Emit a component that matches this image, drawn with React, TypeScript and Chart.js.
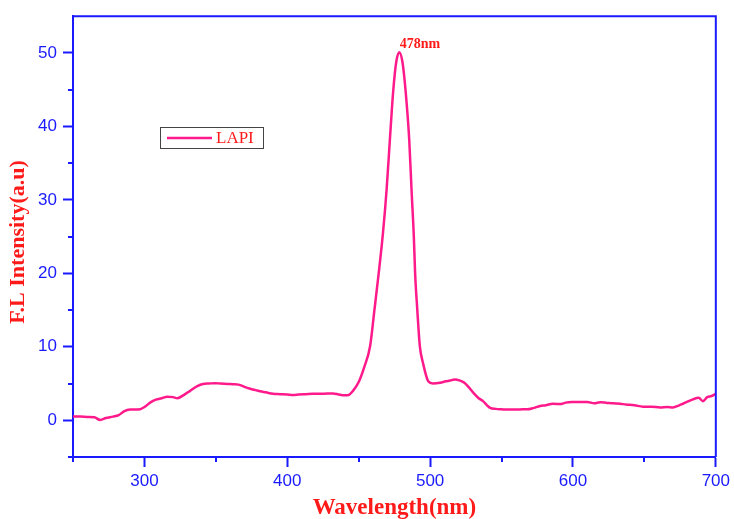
import React, { useEffect, useRef } from "react";
import { Chart, registerables } from "chart.js";

Chart.register(...registerables);

const wavelengths = [
  250, 255, 260, 265, 269, 273, 278, 282, 286, 290, 297, 300, 304, 308, 312, 316, 320, 323, 328, 332,
  337, 341, 345, 350, 353, 358, 362, 366, 370, 374, 378, 381, 385, 390, 395, 400, 404, 408, 413, 418,
  424, 428, 432, 436, 440, 443, 446, 450, 454, 458, 461, 464, 467, 469.5, 471.8, 474.2, 476.3, 478.4, 480.6, 482.8,
  485.4, 487, 488.6, 489.5, 491, 492.8, 495, 498.7, 502, 507, 511, 514, 517, 521, 524, 527, 530, 534,
  537, 540, 542, 546, 550, 555, 560, 565, 568, 572, 577, 581, 586, 591, 595, 600, 605, 610, 615, 619,
  623, 628, 633, 637, 643, 649, 655, 661, 666, 670, 674, 677, 681, 684, 688, 691, 694, 697, 700,
];
const intensity = [
  0.5, 0.5, 0.45, 0.4, 0.05, 0.3, 0.5, 0.7, 1.25, 1.45, 1.5, 1.8, 2.4, 2.8, 3.0, 3.2, 3.15, 3.0, 3.5, 4.0,
  4.65, 4.95, 5.0, 5.05, 5.0, 4.95, 4.9, 4.85, 4.55, 4.3, 4.1, 3.95, 3.8, 3.6, 3.55, 3.5, 3.45, 3.5, 3.55, 3.6,
  3.6, 3.65, 3.65, 3.5, 3.4, 3.45, 4.0, 5.2, 7.3, 10.1, 15.0, 20.0, 25.5, 31.3, 38.1, 44.9, 48.8, 50.1, 48.8, 44.9,
  38.1, 31.3, 25.0, 20.0, 15.1, 10.1, 7.8, 5.3, 5.0, 5.1, 5.3, 5.4, 5.55, 5.4, 5.1, 4.5, 3.8, 3.0,
  2.6, 2.0, 1.7, 1.55, 1.5, 1.45, 1.45, 1.5, 1.5, 1.65, 1.95, 2.05, 2.25, 2.2, 2.4, 2.48, 2.5, 2.5, 2.3, 2.45,
  2.4, 2.3, 2.25, 2.15, 2.05, 1.85, 1.85, 1.75, 1.8, 1.75, 2.0, 2.25, 2.6, 2.85, 3.05, 2.6, 3.15, 3.3, 3.6,
];
const xMajorTicks = [300, 400, 500, 600, 700];
const xMinorTicks = [250, 350, 450, 550, 650];
const yMajorTicks = [0, 10, 20, 30, 40, 50];
const yMinorTicks = [-5, 5, 15, 25, 35, 45];
const seriesName = "LAPI";
const peakLabel = "478nm";
const peakX = 478;
const peakY = 50.1;
const xTitle = "Wavelength(nm)";
const yTitle = "F.L Intensity(a.u)";

const BLUE = "#1a1aff";
const RED = "#ff1a1a";
const PINK = "#ff1a8c";
const SERIF = "'Liberation Serif', 'Times New Roman', serif";

const framePlugin = {
  id: "frameAndExtras",
  afterDraw(chart: any) {
    const { ctx, chartArea, scales } = chart;
    const xs = scales.x;
    const ys = scales.y;
    ctx.save();
    // top and right frame lines
    ctx.strokeStyle = BLUE;
    ctx.lineWidth = 2;
    ctx.beginPath();
    ctx.moveTo(chartArea.left, chartArea.top);
    ctx.lineTo(chartArea.right, chartArea.top);
    ctx.lineTo(chartArea.right, chartArea.bottom);
    ctx.stroke();
    // minor ticks
    ctx.beginPath();
    xMinorTicks.forEach((v) => {
      const px = Math.round(xs.getPixelForValue(v));
      ctx.moveTo(px, chartArea.bottom);
      ctx.lineTo(px, chartArea.bottom + 5);
    });
    yMinorTicks.forEach((v) => {
      const py = Math.round(ys.getPixelForValue(v));
      ctx.moveTo(chartArea.left, py);
      ctx.lineTo(chartArea.left - 5, py);
    });
    ctx.stroke();
    // axis titles
    ctx.fillStyle = RED;
    ctx.textAlign = "center";
    ctx.textBaseline = "middle";
    ctx.font = `bold 23px ${SERIF}`;
    ctx.fillText(xTitle, (chartArea.left + chartArea.right) / 2, 508);
    ctx.save();
    ctx.translate(18, 242);
    ctx.rotate(-Math.PI / 2);
    ctx.font = `bold 22px ${SERIF}`;
    ctx.fillText(yTitle, 0, 0);
    ctx.restore();
    // peak label
    ctx.fillStyle = RED;
    ctx.font = `bold 14px ${SERIF}`;
    ctx.textAlign = "left";
    ctx.textBaseline = "alphabetic";
    ctx.fillText(peakLabel, xs.getPixelForValue(peakX) + 1, ys.getPixelForValue(peakY) - 4);
    // legend
    const lx = 160, ly = 127, lw = 103, lh = 21;
    ctx.strokeStyle = "#444";
    ctx.lineWidth = 1;
    ctx.strokeRect(lx + 0.5, ly + 0.5, lw, lh);
    ctx.strokeStyle = PINK;
    ctx.lineWidth = 2.5;
    ctx.beginPath();
    ctx.moveTo(lx + 7, ly + 11);
    ctx.lineTo(lx + 52, ly + 11);
    ctx.stroke();
    ctx.fillStyle = RED;
    ctx.font = `17px ${SERIF}`;
    ctx.textBaseline = "middle";
    ctx.fillText(seriesName, lx + 56, ly + 12);
    ctx.restore();
  },
};

export default function App() {
  const ref = useRef<HTMLCanvasElement>(null);
  useEffect(() => {
    if (!ref.current) return;
    const points = wavelengths.map((w, i) => ({ x: w, y: intensity[i] }));
    const chart = new Chart(ref.current, {
      type: "line",
      data: {
        datasets: [
          {
            label: seriesName,
            data: points,
            borderColor: PINK,
            borderWidth: 2.5,
            pointRadius: 0,
            cubicInterpolationMode: "monotone",
            fill: false,
          },
        ],
      },
      options: {
        animation: false,
        responsive: false,
        maintainAspectRatio: false,
        layout: { padding: { top: 15, right: 18, left: 0, bottom: 0 } },
        plugins: { legend: { display: false }, tooltip: { enabled: false } },
        scales: {
          x: {
            type: "linear",
            min: 250,
            max: 700,
            afterBuildTicks: (s: any) => {
              s.ticks = xMajorTicks.map((v) => ({ value: v }));
            },
            afterFit: (s: any) => {
              s.height = 62;
            },
            grid: {
              drawOnChartArea: false,
              drawTicks: true,
              tickLength: 10,
              tickColor: BLUE,
              tickWidth: 2,
            },
            border: { color: BLUE, width: 2 },
            ticks: {
              color: BLUE,
              padding: 4,
              maxRotation: 0,
              font: { family: "'Liberation Sans', Arial, sans-serif", size: 17 },
            },
          },
          y: {
            type: "linear",
            min: -5,
            max: 55,
            afterBuildTicks: (s: any) => {
              s.ticks = yMajorTicks.map((v) => ({ value: v }));
            },
            afterFit: (s: any) => {
              s.width = 73;
            },
            grid: {
              drawOnChartArea: false,
              drawTicks: true,
              tickLength: 10,
              tickColor: BLUE,
              tickWidth: 2,
            },
            border: { color: BLUE, width: 2 },
            ticks: {
              color: BLUE,
              padding: 6,
              font: { family: "'Liberation Sans', Arial, sans-serif", size: 17 },
            },
          },
        },
      },
      plugins: [framePlugin],
    });
    return () => chart.destroy();
  }, []);
  return (
    <div style={{ position: "absolute", left: 0, top: 0, width: 734, height: 519, background: "#fff" }}>
      <canvas ref={ref} width={734} height={519} style={{ display: "block" }} />
    </div>
  );
}
